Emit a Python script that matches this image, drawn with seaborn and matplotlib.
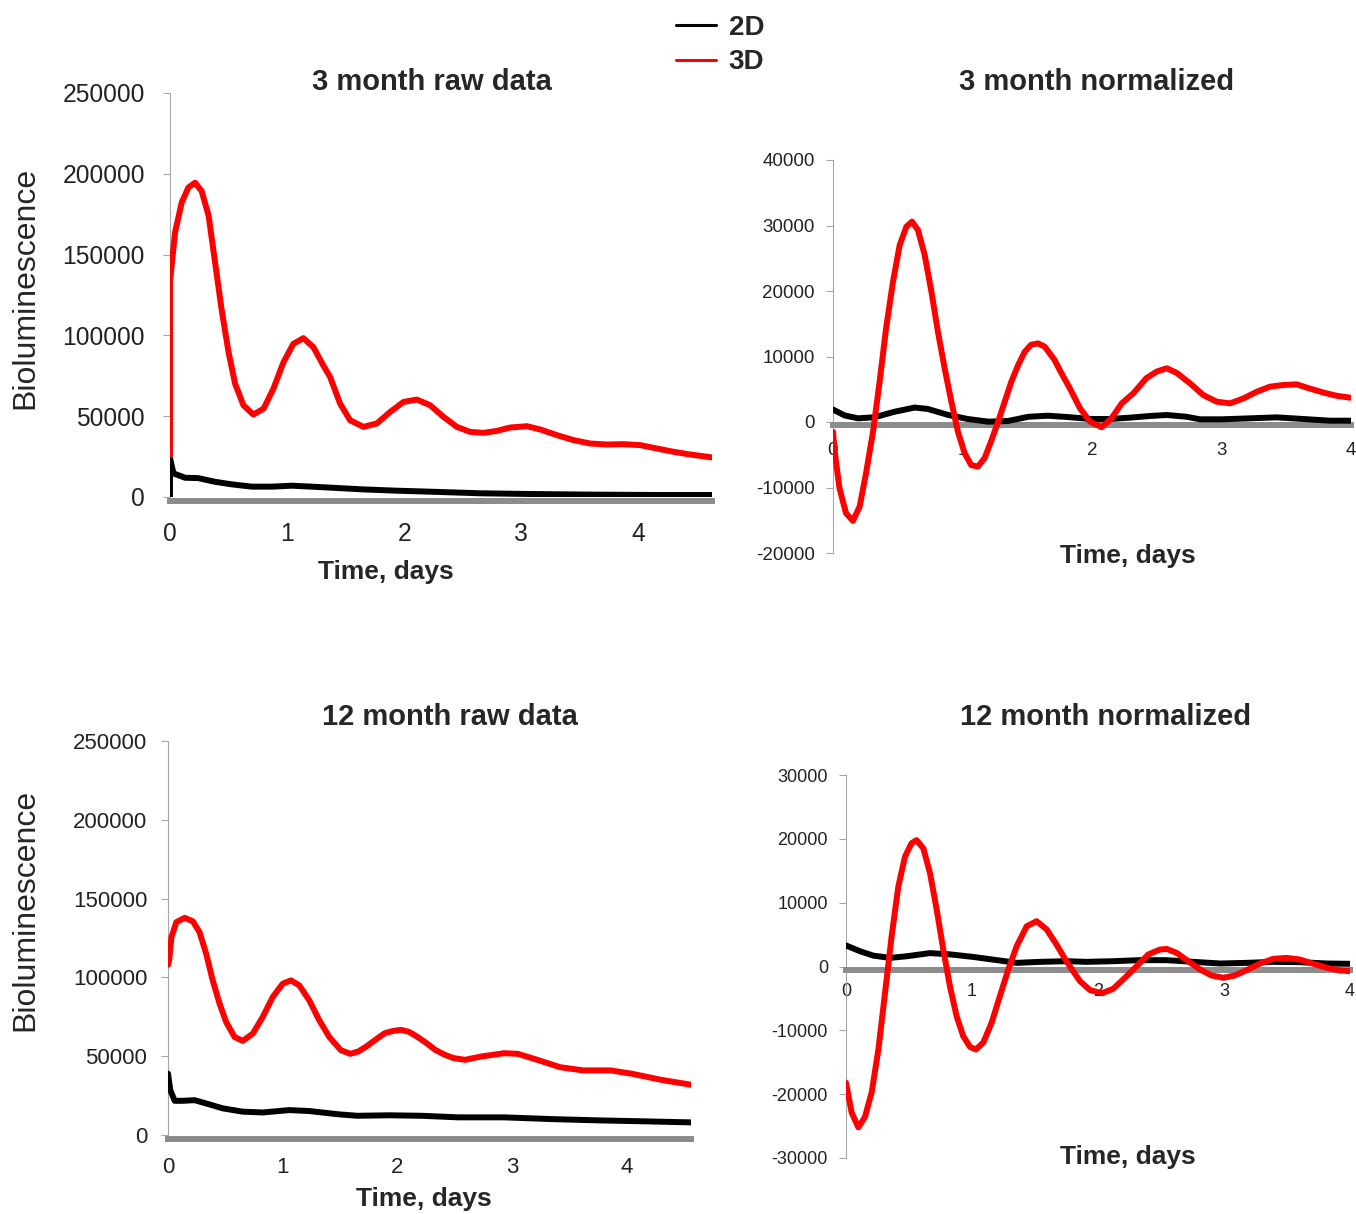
import pandas as pd
import seaborn as sns
import matplotlib.pyplot as plt

# ---- 3 month, raw data ----
t3_raw_2d = [0, 0, 0.03, 0.13, 0.24, 0.385, 0.53, 0.70, 0.87, 1.04, 1.21, 1.368, 1.65, 1.94, 2.22, 2.65,
             3.08, 3.65, 4.22, 4.63]
bio3_raw_2d = [0, 24000, 14600, 11900, 11700, 9400, 7800, 6400, 6400, 7000, 6400, 5800, 4700, 3900, 3300,
               2300, 1850, 1450, 1230, 1230]
t3_raw_3d = [0, 0, 0.043, 0.10, 0.157, 0.214, 0.27, 0.33, 0.385, 0.44, 0.50, 0.556, 0.627, 0.712, 0.80,
             0.883, 0.97, 1.054, 1.14, 1.225, 1.31, 1.368, 1.453, 1.538, 1.652, 1.767, 1.88, 1.994, 2.108,
             2.222, 2.336, 2.45, 2.564, 2.678, 2.792, 2.906, 3.05, 3.162, 3.305, 3.447, 3.59, 3.73, 3.874,
             4.017, 4.16, 4.30, 4.444, 4.63]
bio3_raw_3d = [26000, 133000, 163700, 182200, 191500, 194500, 189400, 174000, 145200, 116400, 89700,
               70100, 56800, 51000, 54700, 67000, 83500, 94800, 98300, 92700, 81400, 74200, 57800, 47500,
               43400, 45500, 52600, 58800, 60300, 56800, 49600, 43400, 40300, 39700, 40900, 43000, 43800,
               41800, 38300, 35200, 33100, 32500, 32700, 32100, 30000, 28000, 26300, 24500]

# ---- 3 month, normalized ----
t3_norm_2d = [0, 0.09, 0.193, 0.32, 0.476, 0.63, 0.73, 0.89, 1.04, 1.20, 1.35, 1.51, 1.66, 1.83, 1.985,
              2.14, 2.29, 2.45, 2.577, 2.73, 2.834, 3.0, 3.22, 3.426, 3.63, 3.838, 4.0]
bio3_norm_2d = [1900, 1000, 560, 720, 1570, 2200, 2000, 1070, 460, 50, 150, 800, 960, 730, 460, 460, 660,
                920, 1070, 800, 410, 410, 560, 710, 460, 200, 200]
t3_norm_3d = [0, 0.013, 0.05, 0.10, 0.154, 0.206, 0.257, 0.309, 0.36, 0.41, 0.463, 0.515, 0.566, 0.61,
              0.656, 0.708, 0.76, 0.81, 0.862, 0.914, 0.965, 1.017, 1.068, 1.12, 1.171, 1.22, 1.274, 1.326,
              1.377, 1.43, 1.48, 1.53, 1.583, 1.635, 1.71, 1.76, 1.83, 1.907, 1.985, 2.075, 2.15, 2.23,
              2.32, 2.42, 2.50, 2.577, 2.654, 2.757, 2.86, 2.963, 3.066, 3.17, 3.27, 3.375, 3.477, 3.58,
              3.683, 3.786, 3.89, 4.0]
bio3_norm_3d = [-1500, -4500, -10100, -13900, -15100, -12900, -7600, -1500, 6150, 14300, 21400, 27000,
                29800, 30600, 29300, 25500, 19900, 13800, 8200, 3100, -1500, -4800, -6600, -6800, -5500,
                -3000, 0, 3100, 6150, 8700, 10700, 11800, 12000, 11500, 9500, 7600, 5100, 2100, 50, -800,
                560, 2850, 4400, 6700, 7700, 8200, 7500, 5900, 4100, 3100, 2850, 3600, 4600, 5400, 5650,
                5750, 5100, 4500, 4000, 3700]

# ---- 12 month, raw data ----
t12_raw_2d = [0, 0.02, 0.058, 0.13, 0.232, 0.333, 0.478, 0.652, 0.826, 1.058, 1.232, 1.49, 1.65, 1.93,
              2.21, 2.53, 2.93, 3.34, 3.74, 4.14, 4.56]
bio12_raw_2d = [39000, 28500, 21700, 21700, 22100, 20000, 16900, 14800, 14300, 15800, 15200, 13100,
                12200, 12500, 12200, 11200, 11200, 10100, 9300, 8700, 8000]
t12_raw_3d = [0, 0.01, 0.03, 0.072, 0.145, 0.217, 0.275, 0.333, 0.39, 0.45, 0.507, 0.58, 0.652, 0.74,
              0.826, 0.913, 1.0, 1.072, 1.145, 1.232, 1.319, 1.406, 1.507, 1.59, 1.66, 1.73, 1.81, 1.89,
              1.96, 2.03, 2.10, 2.17, 2.25, 2.33, 2.41, 2.49, 2.59, 2.73, 2.93, 3.05, 3.22, 3.42, 3.62,
              3.86, 4.05, 4.30, 4.56]
bio12_raw_3d = [108000, 110800, 125500, 135000, 137800, 135600, 128700, 115000, 98100, 83300, 71700,
                62200, 59700, 64400, 74900, 87500, 96000, 98100, 94900, 85400, 72800, 62200, 53800, 51500,
                53000, 56200, 60500, 64600, 66000, 66700, 65500, 62500, 58500, 54000, 51000, 48800, 47700,
                49800, 51900, 51500, 47700, 43000, 41000, 41000, 38800, 35000, 31900]

# ---- 12 month, normalized ----
t12_norm_2d = [0, 0.11, 0.217, 0.35, 0.48, 0.667, 0.825, 1.01, 1.196, 1.355, 1.54, 1.75, 1.91, 2.12,
               2.33, 2.545, 2.756, 2.97, 3.18, 3.39, 3.60, 3.815, 4.0]
bio12_norm_2d = [3300, 2400, 1700, 1350, 1600, 2100, 1900, 1500, 1000, 570, 730, 830, 730, 830, 990,
                 990, 730, 470, 570, 730, 680, 470, 420]
t12_norm_3d = [0, 0.045, 0.098, 0.15, 0.204, 0.257, 0.31, 0.362, 0.415, 0.468, 0.52, 0.56, 0.614,
               0.667, 0.72, 0.772, 0.825, 0.878, 0.93, 0.984, 1.03, 1.09, 1.156, 1.222, 1.288, 1.355,
               1.434, 1.513, 1.593, 1.672, 1.75, 1.857, 1.937, 2.03, 2.12, 2.214, 2.307, 2.4, 2.49, 2.545,
               2.625, 2.717, 2.81, 2.90, 2.995, 3.087, 3.18, 3.286, 3.39, 3.497, 3.60, 3.71, 3.815, 3.92,
               4.0]
bio12_norm_3d = [-18200, -22900, -25200, -23600, -19700, -13000, -4100, 4700, 12500, 17200, 19300,
                 19800, 18500, 14600, 8900, 2650, -3100, -7800, -10900, -12600, -13000, -11900, -8800,
                 -4600, -470, 3200, 6300, 7100, 5800, 3400, 800, -2300, -3700, -4200, -3500, -1770, 50,
                 1900, 2650, 2750, 2130, 830, -470, -1400, -1770, -1400, -570, 470, 1200, 1350, 1100, 420,
                 -200, -620, -730]

raw_ticks = [0, 50000, 100000, 150000, 200000, 250000]
norm3_ticks = [-20000, -10000, 0, 10000, 20000, 30000, 40000]
norm12_ticks = [-30000, -20000, -10000, 0, 10000, 20000, 30000]
day_ticks = [0, 1, 2, 3, 4]


def make_frame(t2d, v2d, t3d, v3d):
    a = pd.DataFrame({'time': t2d, 'bio': v2d, 'group': '2D'})
    b = pd.DataFrame({'time': t3d, 'bio': v3d, 'group': '3D'})
    return pd.concat([a, b], ignore_index=True)


sns.set_theme(style='white')
plt.rcParams['font.family'] = ['Liberation Sans', 'DejaVu Sans']

W, H = 1356, 1214
fig = plt.figure(figsize=(W / 100, H / 100), dpi=100)


def px_axes(left, right, top, bottom):
    return fig.add_axes([left / W, 1 - bottom / H, (right - left) / W, (bottom - top) / H])


palette = {'2D': 'black', '3D': '#ff0000'}

panels = [
    dict(df=make_frame(t3_raw_2d, bio3_raw_2d, t3_raw_3d, bio3_raw_3d), box=(170, 712, 93, 497),
         xlim=(0, 4.63), ylim=(0, 250000), yt=raw_ticks, tsize=17.7, ypad=13, xpad=15,
         band=('outward', 2.9), title='3 month raw data', tpos=(432, 82), xlpos=(386, 572), ylpos=(25, 288)),
    dict(df=make_frame(t3_norm_2d, bio3_norm_2d, t3_norm_3d, bio3_norm_3d), box=(833, 1351, 160, 553),
         xlim=(0, 4), ylim=(-20000, 40000), yt=norm3_ticks, tsize=13.5, ypad=8, xpad=12,
         band=('data', -460), title='3 month normalized', tpos=(1097, 82), xlpos=(1128, 556), ylpos=None),
    dict(df=make_frame(t12_raw_2d, bio12_raw_2d, t12_raw_3d, bio12_raw_3d), box=(168, 691, 741, 1135),
         xlim=(0, 4.56), ylim=(0, 250000), yt=raw_ticks, tsize=16, ypad=10, xpad=13,
         band=('outward', 2.9), title='12 month raw data', tpos=(450, 717), xlpos=(424, 1199), ylpos=(25, 910)),
    dict(df=make_frame(t12_norm_2d, bio12_norm_2d, t12_norm_3d, bio12_norm_3d), box=(846, 1350, 775, 1158),
         xlim=(0, 4), ylim=(-30000, 30000), yt=norm12_ticks, tsize=13, ypad=8, xpad=10,
         band=('data', -470), title='12 month normalized', tpos=(1106, 717), xlpos=(1128, 1157), ylpos=None),
]

legend_handles = None
for i, p in enumerate(panels):
    ax = px_axes(*p['box'])
    sns.lineplot(data=p['df'], x='time', y='bio', hue='group', hue_order=['2D', '3D'], palette=palette,
                 sort=False, estimator=None, lw=4.3, zorder=3, solid_joinstyle='round',
                 solid_capstyle='round', ax=ax, legend=(i == 0))
    if i == 0:
        leg = ax.get_legend()
        legend_handles = (leg.legend_handles, [t.get_text() for t in leg.get_texts()])
        leg.remove()
    ax.set_xlim(*p['xlim'])
    ax.set_ylim(*p['ylim'])
    ax.set_xlabel('')
    ax.set_ylabel('')
    ax.set_facecolor('none')

    # spines first: moving a spine resets its ticks
    for side in ('top', 'right'):
        ax.spines[side].set_visible(False)
    ax.spines['left'].set_color('#a6a6a6')
    ax.spines['left'].set_linewidth(0.8)
    ax.spines['bottom'].set_position(p['band'])
    ax.spines['bottom'].set_color('#8c8c8c')
    ax.spines['bottom'].set_linewidth(4.3)

    ax.set_yticks(p['yt'], labels=[str(v) for v in p['yt']])
    ax.set_xticks(day_ticks, labels=[str(v) for v in day_ticks])
    ax.tick_params(axis='y', left=True, length=5, width=0.8, color='#a6a6a6', pad=p['ypad'],
                   labelsize=p['tsize'], labelcolor='#222222')
    ax.tick_params(axis='x', bottom=False, length=0, pad=p['xpad'], labelsize=p['tsize'],
                   labelcolor='#222222')

    fig.text(p['tpos'][0] / W, 1 - p['tpos'][1] / H, p['title'], ha='center', va='center',
             fontsize=21, fontweight='bold')
    fig.text(p['xlpos'][0] / W, 1 - p['xlpos'][1] / H, 'Time, days', ha='center', va='center',
             fontsize=19, fontweight='bold')
    if p['ylpos'] is not None:
        fig.text(p['ylpos'][0] / W, 1 - p['ylpos'][1] / H, 'Bioluminescence', ha='center', va='center',
                 rotation=90, fontsize=23)

lg = fig.legend(legend_handles[0], legend_handles[1], loc='upper left', bbox_to_anchor=(676 / W, 1 - 15 / H),
                frameon=False, prop={'size': 20, 'weight': 'bold'}, handlelength=1.45, handletextpad=0.45,
                labelspacing=0.3, borderpad=0, borderaxespad=0)
for line in lg.get_lines():
    line.set_linewidth(2.2)

fig.savefig('out.png', dpi=100)
